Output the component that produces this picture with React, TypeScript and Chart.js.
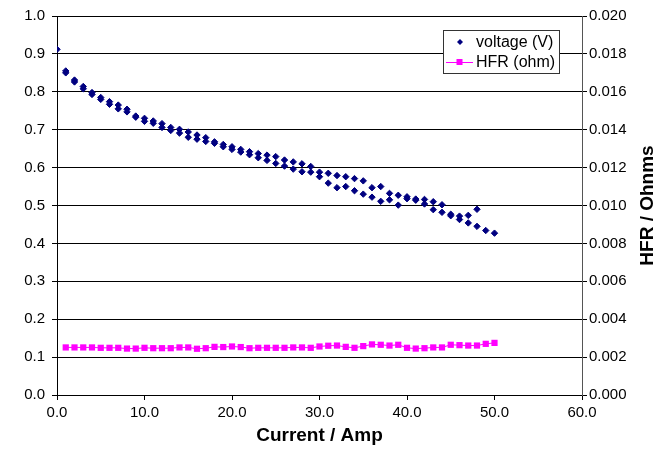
import React, { useEffect, useRef } from "react";
import { Chart, registerables } from "chart.js";

Chart.register(...registerables);

const currents = [
  0, 1, 2, 3, 4, 5, 6, 7, 8, 9, 10, 11, 12, 13, 14, 15, 16, 17, 18, 19, 20,
  21, 22, 23, 24, 25, 26, 27, 28, 29, 30, 31, 32, 33, 34, 35, 36, 37, 38, 39,
  40, 41, 42, 43, 44, 45, 46, 47, 48, 49, 50,
];

// voltage, first sweep (upper points)
const voltageSweepA = [
  0.912, 0.855, 0.831, 0.814, 0.798, 0.785, 0.774, 0.765, 0.754, 0.736, 0.73,
  0.723, 0.716, 0.706, 0.701, 0.694, 0.686, 0.679, 0.668, 0.661, 0.655, 0.648,
  0.642, 0.637, 0.633, 0.629, 0.62, 0.615, 0.61, 0.603, 0.588, 0.585, 0.579,
  0.576, 0.571, 0.565, 0.547, 0.55, 0.532, 0.527, 0.523, 0.517, 0.516, 0.51,
  0.502, 0.477, 0.472, 0.474, 0.49, 0.434, 0.427,
];

// voltage, second sweep (lower points)
const voltageSweepB = [
  null, 0.85, 0.826, 0.808, 0.793, 0.78, 0.767, 0.755, 0.747, 0.733, 0.722,
  0.717, 0.706, 0.698, 0.691, 0.68, 0.675, 0.669, 0.664, 0.655, 0.648, 0.641,
  0.634, 0.626, 0.619, 0.611, 0.604, 0.596, 0.589, 0.588, 0.576, 0.559, 0.547,
  0.55, 0.539, 0.53, 0.522, 0.511, 0.515, 0.501, 0.518, 0.514, 0.504, 0.489,
  0.482, 0.473, 0.463, 0.454, 0.445, null, null,
];

const hfrCurrents = [
  1, 2, 3, 4, 5, 6, 7, 8, 9, 10, 11, 12, 13, 14, 15, 16, 17, 18, 19, 20, 21,
  22, 23, 24, 25, 26, 27, 28, 29, 30, 31, 32, 33, 34, 35, 36, 37, 38, 39, 40,
  41, 42, 43, 44, 45, 46, 47, 48, 49, 50,
];

const hfrOhm = [
  0.00251, 0.00251, 0.00251, 0.00251, 0.00249, 0.00249, 0.00249, 0.00245,
  0.00245, 0.00249, 0.00247, 0.00247, 0.00247, 0.00251, 0.00251, 0.00244,
  0.00247, 0.00254, 0.00253, 0.00256, 0.00253, 0.00247, 0.00249, 0.00249,
  0.00249, 0.00249, 0.00251, 0.00251, 0.00249, 0.00256, 0.0026, 0.00261,
  0.00254, 0.00249, 0.00258, 0.00267, 0.00265, 0.00261, 0.00265, 0.00249,
  0.00245, 0.00247, 0.00251, 0.00251, 0.00265, 0.00263, 0.00261, 0.00261,
  0.0027, 0.00275,
];

const xTitle = "Current / Amp";
const rightTitle = "HFR / Ohnms";
const voltageLabel = "voltage (V)";
const hfrLabel = "HFR (ohm)";

const NAVY = "#000080";
const MAGENTA = "#FF00FF";
const FONT = "'Liberation Sans', Arial, sans-serif";

const customPlugin = {
  id: "custom",
  beforeDraw(chart: any) {
    const ctx = chart.ctx;
    ctx.save();
    ctx.fillStyle = "#fff";
    ctx.fillRect(0, 0, chart.width, chart.height);
    ctx.restore();
  },
  afterDraw(chart: any) {
    const ctx = chart.ctx;
    const area = chart.chartArea;
    // right axis title, reading bottom to top
    ctx.save();
    ctx.font = `bold 19px ${FONT}`;
    ctx.fillStyle = "#000";
    ctx.textAlign = "center";
    ctx.textBaseline = "middle";
    ctx.translate(648, (area.top + area.bottom) / 2);
    ctx.rotate(-Math.PI / 2);
    ctx.fillText(rightTitle, 0, 0);
    ctx.restore();

    // legend box
    const bx = 443.5, by = 30.5, bw = 116, bh = 43;
    ctx.save();
    ctx.fillStyle = "#fff";
    ctx.fillRect(bx, by, bw, bh);
    ctx.strokeStyle = "#333";
    ctx.lineWidth = 1;
    ctx.strokeRect(bx, by, bw, bh);
    const ds = chart.data.datasets;
    const y1 = 42, y2 = 62;
    ctx.fillStyle = NAVY;
    ctx.beginPath();
    ctx.moveTo(460, y1 - 3);
    ctx.lineTo(463, y1);
    ctx.lineTo(460, y1 + 3);
    ctx.lineTo(457, y1);
    ctx.closePath();
    ctx.fill();
    ctx.strokeStyle = MAGENTA;
    ctx.beginPath();
    ctx.moveTo(446, y2 + 0.5);
    ctx.lineTo(473, y2 + 0.5);
    ctx.stroke();
    ctx.fillStyle = MAGENTA;
    ctx.fillRect(456.5, y2 - 3, 6, 6);
    ctx.fillStyle = "#000";
    ctx.font = `16px ${FONT}`;
    ctx.textAlign = "left";
    ctx.textBaseline = "middle";
    ctx.fillText(ds[0].label, 476, y1 + 1);
    ctx.fillText(ds[1].label, 476, y2 + 1);
    ctx.restore();
  },
};

export default function App() {
  const ref = useRef<HTMLCanvasElement | null>(null);

  useEffect(() => {
    if (!ref.current) return;
    const voltagePoints: { x: number; y: number }[] = [];
    currents.forEach((c, i) => {
      if (voltageSweepA[i] != null) voltagePoints.push({ x: c, y: voltageSweepA[i] as number });
    });
    currents.forEach((c, i) => {
      if (voltageSweepB[i] != null) voltagePoints.push({ x: c, y: voltageSweepB[i] as number });
    });
    const hfrPoints = hfrCurrents.map((c, i) => ({ x: c, y: hfrOhm[i] }));

    const tickFont = { family: FONT, size: 15 };

    const chart = new Chart(ref.current, {
      type: "scatter",
      data: {
        datasets: [
          {
            label: voltageLabel,
            data: voltagePoints,
            yAxisID: "y",
            showLine: false,
            pointStyle: "rectRot",
            pointRadius: 3.2,
            pointBackgroundColor: NAVY,
            pointBorderColor: NAVY,
            pointBorderWidth: 1,
            order: 0,
          },
          {
            label: hfrLabel,
            data: hfrPoints,
            yAxisID: "y2",
            showLine: true,
            borderColor: MAGENTA,
            borderWidth: 1,
            pointStyle: "rect",
            pointRadius: 4.4,
            pointBackgroundColor: MAGENTA,
            pointBorderColor: MAGENTA,
            pointBorderWidth: 0,
            order: 1,
          },
        ],
      },
      options: {
        responsive: false,
        animation: false,
        devicePixelRatio: 1,
        layout: { padding: { top: 15, left: 0, right: 0, bottom: 0 } },
        plugins: {
          legend: { display: false },
          tooltip: { enabled: false },
        },
        scales: {
          x: {
            type: "linear",
            min: 0,
            max: 60,
            ticks: {
              stepSize: 10,
              color: "#000",
              font: tickFont,
              padding: 4,
              callback: (v: any) => Number(v).toFixed(1),
            },
            grid: {
              drawOnChartArea: false,
              drawTicks: true,
              tickLength: 5,
              color: "#000",
            },
            border: { display: true, color: "#000" },
            title: {
              display: true,
              text: xTitle,
              color: "#000",
              font: { family: FONT, size: 19, weight: "bold" },
              padding: { top: 0, bottom: 3 },
            },
            afterFit: (s: any) => {
              s.height = 55;
            },
          },
          y: {
            type: "linear",
            position: "left",
            min: 0,
            max: 1,
            ticks: {
              stepSize: 0.1,
              color: "#000",
              font: tickFont,
              padding: 7,
              callback: (v: any) => Number(v).toFixed(1),
            },
            grid: {
              drawOnChartArea: true,
              drawTicks: true,
              tickLength: 5,
              color: "#000",
            },
            border: { display: true, color: "#000" },
            afterFit: (s: any) => {
              s.width = 57;
            },
          },
          y2: {
            type: "linear",
            position: "right",
            min: 0,
            max: 0.02,
            ticks: {
              stepSize: 0.002,
              color: "#000",
              font: tickFont,
              padding: 2,
              callback: (v: any) => Number(v).toFixed(3),
            },
            grid: {
              drawOnChartArea: false,
              drawTicks: true,
              tickLength: 5,
              color: "#000",
            },
            border: { display: true, color: "#555" },
            afterFit: (s: any) => {
              s.width = 86;
            },
          },
        },
      },
      plugins: [customPlugin],
    });
    return () => chart.destroy();
  }, []);

  return (
    <div style={{ position: "fixed", left: 0, top: 0, width: 668, height: 450, background: "#fff" }}>
      <canvas ref={ref} width={668} height={450} style={{ display: "block" }} />
    </div>
  );
}
